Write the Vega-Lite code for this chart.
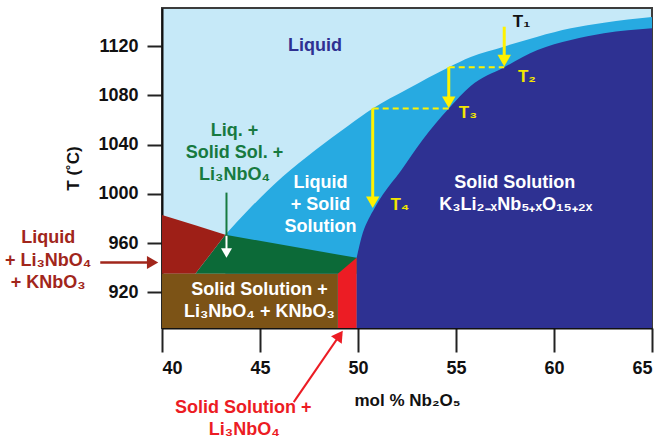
{
  "$schema": "https://vega.github.io/schema/vega-lite/v6.json",
  "width": 490,
  "height": 320,
  "autosize": "none",
  "padding": {"left": 162, "top": 8, "right": 11, "bottom": 117},
  "background": "white",
  "view": {"fill": "#c6e9f8", "stroke": "#3c3c3c", "strokeWidth": 2},
  "config": {
    "font": "Liberation Sans",
    "axis": {
      "grid": false,
      "labelFont": "Liberation Sans",
      "labelFontSize": 18,
      "labelFontWeight": "bold",
      "labelColor": "#111111",
      "titleFont": "Liberation Sans",
      "titleFontSize": 17,
      "titleFontWeight": "bold",
      "titleColor": "#111111",
      "domainColor": "#111111",
      "domainWidth": 2,
      "tickColor": "#222222",
      "tickWidth": 2
    }
  },
  "datasets": {
    "liq": [
      {"x": 43.23, "t": 966.7},
      {"x": 44.41, "t": 987.0},
      {"x": 46.15, "t": 1013.8},
      {"x": 47.83, "t": 1035.7},
      {"x": 49.52, "t": 1055.6},
      {"x": 50.75, "t": 1069.3},
      {"x": 52.53, "t": 1085.2},
      {"x": 54.63, "t": 1102.9},
      {"x": 55.75, "t": 1111.2},
      {"x": 57.44, "t": 1119.6},
      {"x": 59.16, "t": 1127.7},
      {"x": 60.86, "t": 1134.5},
      {"x": 62.55, "t": 1139.1},
      {"x": 65, "t": 1143.7}
    ],
    "sol": [
      {"x": 49.93, "t": 948.0},
      {"x": 50.25, "t": 968.5},
      {"x": 50.54, "t": 979.5},
      {"x": 50.85, "t": 988.6},
      {"x": 51.26, "t": 999.2},
      {"x": 52.18, "t": 1018.6},
      {"x": 53.29, "t": 1043.8},
      {"x": 54.63, "t": 1069.3},
      {"x": 55.75, "t": 1087.7},
      {"x": 57.46, "t": 1102.9},
      {"x": 59.16, "t": 1116.9},
      {"x": 60.86, "t": 1125.0},
      {"x": 62.55, "t": 1130.5},
      {"x": 65, "t": 1134.5}
    ],
    "green": [
      {"x": 41.70, "t": 935.0, "t2": 935.0},
      {"x": 43.23, "t": 966.7, "t2": 935.0},
      {"x": 49.93, "t": 948.0, "t2": 935.0}
    ],
    "darkred": [
      {"x": 40, "t": 982.9, "t2": 935.0},
      {"x": 41.70, "t": 974.4, "t2": 935.0},
      {"x": 43.23, "t": 966.7, "t2": 966.7}
    ],
    "brightred": [
      {"x": 48.97, "t": 935.0, "t2": 891},
      {"x": 49.93, "t": 948.0, "t2": 891}
    ],
    "brown": [
      {"x": 40, "x2": 48.97, "t": 935.0, "t2": 891}
    ],
    "dashes": [
      {"x": 54.63, "x2": 57.46, "t": 1102.9},
      {"x": 50.75, "x2": 54.63, "t": 1069.3}
    ],
    "shafts": [
      {"x": 57.46, "t": 1135.8, "t2": 1108.2},
      {"x": 54.63, "t": 1102.9, "t2": 1074.4},
      {"x": 50.75, "t": 1069.3, "t2": 993.2}
    ],
    "heads": [
      {"x": 57.46, "t": 1108.2},
      {"x": 54.63, "t": 1074.4},
      {"x": 50.75, "t": 993.2}
    ],
    "gshaft": [{"x": 43.29, "t": 1001.0, "t2": 965.9}],
    "wshaft": [{"x": 43.29, "t": 965.9, "t2": 952.0}],
    "whead": [{"x": 43.29, "t": 951.9}],
    "drarrow": [{"x": 36.85, "x2": 39.52, "t": 944.2}],
    "drhead": [{"x": 39.52, "t": 944.2}],
    "rarrow": [{"x": 46.72, "t": 830.8, "x2": 49.06, "t2": 885.0}],
    "rhead": [{"x": 49.06, "t": 885.0}],
    "lbl_liquid": [{"x": 47.81, "t": 1120.1, "label": "Liquid"}],
    "lbl_green": [
      {"x": 43.7, "t": 1050.7, "label": "Liq. +"},
      {"x": 43.7, "t": 1032.8, "label": "Solid Sol. +"},
      {"x": 43.7, "t": 1015.4, "label": "Li₃NbO₄"}
    ],
    "lbl_white": [
      {"x": 48.09, "t": 1008.9, "label": "Liquid"},
      {"x": 48.09, "t": 991.0, "label": "+ Solid"},
      {"x": 48.09, "t": 973.2, "label": "Solution"},
      {"x": 58.0, "t": 1008.9, "label": "Solid Solution"},
      {"x": 58.05, "t": 991.0, "label": "K₃Li₂₋ₓNb₅₊ₓO₁₅₊₂ₓ"},
      {"x": 44.97, "t": 922.0, "label": "Solid Solution +"},
      {"x": 44.97, "t": 904.1, "label": "Li₃NbO₄ + KNbO₃"}
    ],
    "lbl_darkred": [
      {"x": 34.19, "t": 964.2, "label": "Liquid"},
      {"x": 34.19, "t": 945.6, "label": "+ Li₃NbO₄"},
      {"x": 34.19, "t": 927.7, "label": "+ KNbO₃"}
    ],
    "lbl_red": [
      {"x": 44.15, "t": 826.2, "label": "Solid Solution +"},
      {"x": 44.2, "t": 808.3, "label": "Li₃NbO₄"}
    ],
    "lbl_t1": [{"x": 57.90, "t": 1139.6, "label": "T₁"}],
    "lbl_ty": [
      {"x": 58.16, "t": 1095.0, "label": "T₂"},
      {"x": 55.14, "t": 1065.7, "label": "T₃"},
      {"x": 51.66, "t": 991.0, "label": "T₄"}
    ]
  },
  "encoding": {
    "x": {
      "field": "x",
      "type": "quantitative",
      "scale": {"domain": [40, 65], "nice": false, "zero": false},
      "axis": {
        "values": [40, 45, 50, 55, 60, 65],
        "title": "mol % Nb₂O₅",
        "tickSize": 24,
        "labelPadding": 7,
        "titlePadding": 15
      }
    },
    "y": {
      "field": "t",
      "type": "quantitative",
      "scale": {"domain": [891, 1151], "nice": false, "zero": false},
      "axis": {
        "values": [920, 960, 1000, 1040, 1080, 1120],
        "format": "d",
        "title": "T (˚C)",
        "tickSize": 15,
        "labelPadding": 9,
        "titlePadding": 15
      }
    }
  },
  "layer": [
    {"data": {"name": "liq"}, "mark": {"type": "area", "color": "#27aae1", "interpolate": "monotone"}, "encoding": {"y2": {"datum": 891}}},
    {"data": {"name": "sol"}, "mark": {"type": "area", "color": "#2e3192", "interpolate": "monotone"}, "encoding": {"y2": {"datum": 891}}},
    {"data": {"name": "green"}, "mark": {"type": "area", "color": "#0c6a38"}, "encoding": {"y2": {"field": "t2"}}},
    {"data": {"name": "darkred"}, "mark": {"type": "area", "color": "#9e1f17"}, "encoding": {"y2": {"field": "t2"}}},
    {"data": {"name": "brightred"}, "mark": {"type": "area", "color": "#ec1c24"}, "encoding": {"y2": {"field": "t2"}}},
    {"data": {"name": "brown"}, "mark": {"type": "rect", "color": "#7c5316"}, "encoding": {"x2": {"field": "x2"}, "y2": {"field": "t2"}}},
    {"data": {"name": "dashes"}, "mark": {"type": "rule", "color": "#fff200", "strokeWidth": 2, "strokeDash": [6, 4]}, "encoding": {"x2": {"field": "x2"}}},
    {"data": {"name": "shafts"}, "mark": {"type": "rule", "color": "#fff200", "strokeWidth": 3}, "encoding": {"y2": {"field": "t2"}}},
    {"data": {"name": "heads"}, "mark": {"type": "point", "shape": "triangle-down", "filled": true, "size": 180, "color": "#fff200", "opacity": 1, "strokeWidth": 0}},
    {"data": {"name": "gshaft"}, "mark": {"type": "rule", "color": "#177a40", "strokeWidth": 2}, "encoding": {"y2": {"field": "t2"}}},
    {"data": {"name": "wshaft"}, "mark": {"type": "rule", "color": "#ffffff", "strokeWidth": 2}, "encoding": {"y2": {"field": "t2"}}},
    {"data": {"name": "whead"}, "mark": {"type": "point", "shape": "triangle-down", "filled": true, "size": 121, "color": "#ffffff", "opacity": 1, "strokeWidth": 0}},
    {"data": {"name": "drarrow"}, "mark": {"type": "rule", "color": "#a1261b", "strokeWidth": 2.5}, "encoding": {"x2": {"field": "x2"}}},
    {"data": {"name": "drhead"}, "mark": {"type": "point", "shape": "triangle-right", "filled": true, "size": 169, "color": "#a1261b", "opacity": 1, "strokeWidth": 0}},
    {"data": {"name": "rarrow"}, "mark": {"type": "rule", "color": "#ec1c24", "strokeWidth": 2}, "encoding": {"x2": {"field": "x2"}, "y2": {"field": "t2"}}},
    {"data": {"name": "rhead"}, "mark": {"type": "point", "shape": "triangle-up", "angle": 34.5, "filled": true, "size": 169, "color": "#ec1c24", "opacity": 1, "strokeWidth": 0}},
    {"data": {"name": "lbl_liquid"}, "mark": {"type": "text", "font": "Liberation Sans", "fontWeight": "bold", "fontSize": 18, "align": "center", "baseline": "middle", "color": "#2e3192"}, "encoding": {"text": {"field": "label"}}},
    {"data": {"name": "lbl_green"}, "mark": {"type": "text", "font": "Liberation Sans", "fontWeight": "bold", "fontSize": 18, "align": "center", "baseline": "middle", "color": "#177a40"}, "encoding": {"text": {"field": "label"}}},
    {"data": {"name": "lbl_white"}, "mark": {"type": "text", "font": "Liberation Sans", "fontWeight": "bold", "fontSize": 18, "align": "center", "baseline": "middle", "color": "#ffffff"}, "encoding": {"text": {"field": "label"}}},
    {"data": {"name": "lbl_darkred"}, "mark": {"type": "text", "font": "Liberation Sans", "fontWeight": "bold", "fontSize": 18, "align": "center", "baseline": "middle", "color": "#a1261b"}, "encoding": {"text": {"field": "label"}}},
    {"data": {"name": "lbl_red"}, "mark": {"type": "text", "font": "Liberation Sans", "fontWeight": "bold", "fontSize": 18, "align": "center", "baseline": "middle", "color": "#ec1c24"}, "encoding": {"text": {"field": "label"}}},
    {"data": {"name": "lbl_t1"}, "mark": {"type": "text", "font": "Liberation Sans", "fontWeight": "bold", "fontSize": 17, "align": "left", "baseline": "middle", "color": "#111111"}, "encoding": {"text": {"field": "label"}}},
    {"data": {"name": "lbl_ty"}, "mark": {"type": "text", "font": "Liberation Sans", "fontWeight": "bold", "fontSize": 17, "align": "left", "baseline": "middle", "color": "#f2e600"}, "encoding": {"text": {"field": "label"}}}
  ]
}
